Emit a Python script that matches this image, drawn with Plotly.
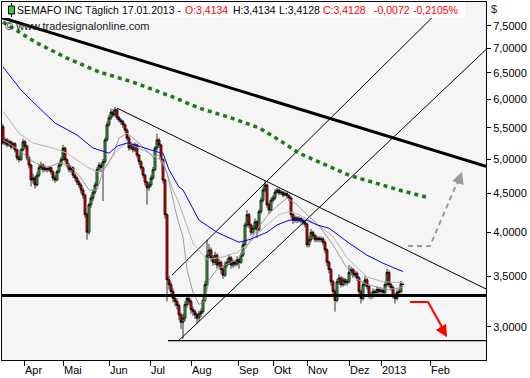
import plotly.graph_objects as go
import math

# ---------------- data ----------------
opens = [5.52,5.25,5.30,5.22,5.27,5.19,5.24,5.14,5.02,4.99,
         5.14,5.27,5.20,5.02,4.91,4.69,4.72,4.62,4.76,4.87,
         4.91,4.84,4.87,4.84,4.87,4.81,4.72,4.69,4.81,4.91,
         4.99,5.17,4.99,4.91,4.84,4.87,4.76,4.72,4.66,4.62,
         4.55,4.48,4.22,4.00,4.35,4.44,4.52,4.62,4.84,4.91,
         4.87,4.96,5.30,5.55,5.67,5.77,5.72,5.81,5.67,5.63,
         5.60,5.55,5.46,5.33,5.17,5.22,5.14,5.22,5.06,4.96,
         4.87,4.76,4.66,4.58,4.62,4.72,4.84,5.17,5.30,5.22,
         4.99,4.69,4.22,3.46,3.41,3.34,3.27,3.24,3.20,3.11,
         3.04,3.08,3.21,3.27,3.24,3.16,3.14,3.11,3.08,3.12,
         3.14,3.25,3.41,3.73,3.79,3.70,3.65,3.73,3.62,3.65,
         3.57,3.51,3.62,3.65,3.70,3.62,3.65,3.63,3.68,3.65,
         3.73,3.85,4.09,4.22,4.09,4.00,4.05,4.13,4.03,4.26,
         4.41,4.55,4.62,4.35,4.28,4.41,4.44,4.52,4.55,4.51,
         4.52,4.48,4.50,4.47,4.44,4.22,4.15,4.18,4.15,4.17,
         4.14,4.13,4.10,3.85,3.91,4.00,3.96,3.91,3.93,3.91,
         3.92,3.88,3.79,3.65,3.57,3.44,3.34,3.25,3.44,3.48,
         3.41,3.46,3.43,3.44,3.54,3.57,3.51,3.53,3.48,3.34,
         3.27,3.41,3.46,3.39,3.30,3.29,3.34,3.33,3.36,3.34,
         3.35,3.33,3.41,3.54,3.41,3.38,3.30,3.27,3.33,3.34,
         3.4134]
highs = [5.56,5.34,5.33,5.31,5.29,5.27,5.26,5.16,5.06,5.17,
         5.32,5.30,5.22,5.05,4.93,4.78,4.75,4.80,4.92,4.96,
         4.93,4.90,4.89,4.90,4.89,4.83,4.76,4.84,4.95,5.03,
         5.22,5.19,5.01,4.94,4.90,4.89,4.79,4.74,4.69,4.65,
         4.58,4.50,4.25,4.38,4.48,4.56,4.66,4.88,4.95,4.94,
         5.00,5.34,5.60,5.72,5.83,5.82,5.86,5.83,5.70,5.66,
         5.63,5.57,5.49,5.36,5.27,5.25,5.26,5.24,5.08,4.98,
         4.89,4.78,4.68,4.66,4.76,4.88,5.20,5.40,5.33,5.24,
         5.01,4.71,4.24,3.50,3.44,3.37,3.30,3.27,3.22,3.13,
         3.12,3.24,3.30,3.29,3.26,3.19,3.16,3.13,3.15,3.17,
         3.28,3.45,3.91,3.86,3.82,3.73,3.77,3.75,3.69,3.67,
         3.59,3.66,3.69,3.74,3.72,3.68,3.67,3.72,3.70,3.76,
         3.89,4.12,4.28,4.24,4.11,4.09,4.17,4.15,4.29,4.45,
         4.59,4.68,4.64,4.38,4.45,4.48,4.56,4.58,4.57,4.55,
         4.54,4.53,4.52,4.49,4.46,4.25,4.21,4.20,4.20,4.19,
         4.17,4.15,4.12,3.95,4.04,4.02,3.98,3.96,3.95,3.95,
         3.94,3.90,3.81,3.67,3.59,3.46,3.36,3.47,3.52,3.50,
         3.49,3.48,3.47,3.62,3.60,3.59,3.56,3.55,3.50,3.36,
         3.44,3.50,3.48,3.41,3.33,3.37,3.36,3.39,3.38,3.38,
         3.37,3.44,3.58,3.56,3.43,3.40,3.32,3.36,3.37,3.45,
         3.4134]
lows = [5.22,5.21,5.18,5.19,5.15,5.16,5.10,4.98,4.95,4.97,
        5.12,5.16,4.98,4.86,4.60,4.64,4.57,4.60,4.73,4.84,
        4.80,4.81,4.80,4.81,4.77,4.68,4.65,4.67,4.79,4.88,
        4.97,4.95,4.87,4.80,4.80,4.72,4.68,4.62,4.58,4.50,
        4.43,4.18,3.91,3.97,4.31,4.40,4.49,4.60,4.81,4.80,
        4.40,4.93,5.27,5.52,5.63,5.68,5.69,5.63,5.59,5.55,
        5.50,5.42,5.29,5.13,5.14,5.10,5.11,5.02,4.91,4.83,
        4.72,4.61,4.35,4.54,4.59,4.69,4.82,5.13,5.17,4.95,
        4.64,4.17,3.24,3.36,3.30,3.23,3.19,3.16,3.06,2.98,
        2.89,3.05,3.18,3.20,3.12,3.10,3.07,3.03,3.05,3.09,
        3.12,3.23,3.39,3.69,3.66,3.61,3.62,3.58,3.59,3.52,
        3.47,3.49,3.59,3.62,3.58,3.59,3.60,3.61,3.58,3.63,
        3.71,3.83,4.06,4.05,3.96,3.97,4.02,3.93,4.01,4.23,
        4.38,4.52,4.31,4.23,4.26,4.38,4.41,4.49,4.48,4.48,
        4.45,4.46,4.44,4.40,4.18,4.10,4.12,4.11,4.12,4.11,
        4.09,4.06,3.82,3.82,3.88,3.92,3.88,3.88,3.88,3.88,
        3.84,3.75,3.61,3.53,3.40,3.30,3.14,3.23,3.41,3.38,
        3.39,3.40,3.40,3.42,3.51,3.48,3.49,3.45,3.30,3.22,
        3.25,3.39,3.36,3.27,3.26,3.27,3.30,3.31,3.31,3.32,
        3.30,3.31,3.39,3.38,3.35,3.27,3.22,3.25,3.31,3.32,
        3.4128]
closes = [5.25,5.30,5.22,5.27,5.19,5.24,5.14,5.02,4.99,5.14,
          5.27,5.20,5.02,4.91,4.69,4.72,4.62,4.76,4.87,4.91,
          4.84,4.87,4.84,4.87,4.81,4.72,4.69,4.81,4.91,4.99,
          5.17,4.99,4.91,4.84,4.87,4.76,4.72,4.66,4.62,4.55,
          4.48,4.22,4.00,4.35,4.44,4.52,4.62,4.84,4.91,4.87,
          4.96,5.30,5.55,5.67,5.77,5.72,5.81,5.67,5.63,5.60,
          5.55,5.46,5.33,5.17,5.22,5.14,5.22,5.06,4.96,4.87,
          4.76,4.66,4.58,4.62,4.72,4.84,5.17,5.30,5.22,4.99,
          4.69,4.22,3.46,3.41,3.34,3.27,3.24,3.20,3.11,3.04,
          3.08,3.21,3.27,3.24,3.16,3.14,3.11,3.08,3.12,3.14,
          3.25,3.41,3.73,3.79,3.70,3.65,3.73,3.62,3.65,3.57,
          3.51,3.62,3.65,3.70,3.62,3.65,3.63,3.68,3.65,3.73,
          3.85,4.09,4.22,4.09,4.00,4.05,4.13,4.03,4.26,4.41,
          4.55,4.62,4.35,4.28,4.41,4.44,4.52,4.55,4.51,4.52,
          4.48,4.50,4.47,4.44,4.22,4.15,4.18,4.15,4.17,4.14,
          4.13,4.10,3.85,3.91,4.00,3.96,3.91,3.93,3.91,3.92,
          3.88,3.79,3.65,3.57,3.44,3.34,3.25,3.44,3.48,3.41,
          3.46,3.43,3.44,3.54,3.57,3.51,3.53,3.48,3.34,3.27,
          3.41,3.46,3.39,3.30,3.29,3.34,3.33,3.36,3.34,3.35,
          3.33,3.41,3.54,3.41,3.38,3.30,3.27,3.33,3.34,3.42,
          3.4128]

# moving averages (bar index, value)
ma_blue_x = [0, 9, 15, 26, 37, 45, 53, 57, 62, 68, 77, 80, 83, 88, 90, 98, 107, 118, 123, 132, 137, 143, 152, 157, 163, 173, 182, 190, 198, 200]
ma_blue_y = [6.62, 6.17, 5.95, 5.58, 5.38, 5.17, 5.09, 5.20, 5.25, 5.20, 5.11, 5.09, 4.84, 4.59, 4.55, 4.15, 4.00, 3.88, 3.91, 4.00, 4.09, 4.15, 4.15, 4.09, 4.05, 3.87, 3.73, 3.64, 3.565, 3.55]
ma_slow_x = [0, 8, 15, 25, 32, 42, 47, 52, 57, 62, 68, 75, 80, 85, 88, 95, 102, 110, 117, 123, 131, 138, 143, 148, 158, 165, 172, 182, 190, 198, 200]
ma_slow_y = [5.78, 5.41, 5.25, 5.17, 5.09, 4.88, 4.81, 4.91, 5.14, 5.25, 5.17, 5.06, 4.96, 4.55, 4.37, 3.87, 3.68, 3.71, 3.76, 3.87, 4.07, 4.22, 4.26, 4.22, 4.08, 3.95, 3.70, 3.49, 3.44, 3.43, 3.43]
ma_fast_x = [0, 8, 15, 22, 28, 33, 38, 43, 47, 50, 55, 58, 62, 68, 75, 78, 82, 87, 90, 92, 95, 98, 101, 103, 107, 113, 118, 123, 128, 132, 137, 142, 147, 152, 158, 165, 171, 176, 182, 192, 200]
ma_fast_y = [5.30, 5.14, 4.96, 4.87, 4.94, 4.91, 4.76, 4.55, 4.55, 4.81, 5.06, 5.33, 5.41, 5.25, 5.03, 5.06, 4.79, 4.19, 3.94, 3.57, 3.33, 3.21, 3.25, 3.46, 3.57, 3.64, 3.70, 3.87, 4.07, 4.20, 4.33, 4.44, 4.35, 4.22, 4.08, 3.85, 3.62, 3.48, 3.41, 3.36, 3.38]
ma_green_x = [0, 17, 32, 48, 65, 85, 98, 113, 128, 138, 148, 173, 198, 212]
ma_green_y = [7.59, 7.12, 6.80, 6.52, 6.32, 6.04, 5.84, 5.68, 5.50, 5.30, 5.09, 4.76, 4.55, 4.45]

# trend lines: (x0, y0, x1, y1) in bar index / price
trend_thick = (-0.5, 7.69, 241.5, 4.89)
trend_down = (57, 5.84, 241.5, 3.365)
channel_low = (87.5, 2.87, 241.5, 6.98)
channel_up = (84.5, 3.51, 221, 8.00)
support_level = 3.30
low_level = 2.875

# axis ticks
month_pos = [10.5, 30, 53, 73.5, 94, 117.5, 135, 152, 173, 189, 213.5]
month_lbl = ["Apr", "Mai", "Jun", "Jul", "Aug", "Sep", "Okt", "Nov", "Dez", "2013", "Feb"]
price_ticks = [3.0, 3.5, 4.0, 4.5, 5.0, 5.5, 6.0, 6.5, 7.0, 7.5]

# ---------------- figure ----------------
W, H = 530, 378
ML, MR, MT, MB = 2, 44, 2, 18
PW, PH = W - ML - MR, H - MT - MB

def px(x):
    return (x - ML) / PW

def py(y):
    return (H - MB - y) / PH

bars = list(range(len(closes)))
fig = go.Figure()

def line(xs, ys, color, width, dash=None):
    fig.add_trace(go.Scatter(x=list(xs), y=list(ys), mode="lines",
                             line=dict(color=color, width=width, dash=dash),
                             hoverinfo="skip", showlegend=False))

# trend / channel lines (behind)
for t in (channel_low, channel_up, trend_down):
    line([t[0], t[2]], [t[1], t[3]], "black", 1)
line([82.5, 241.5], [low_level, low_level], "black", 1.2)

# moving averages
line(ma_slow_x, ma_slow_y, "#b4b4b4", 1)
line(ma_fast_x, ma_fast_y, "#9c9c9c", 1)
line(ma_blue_x, ma_blue_y, "#0000ff", 1)

fig.add_trace(go.Candlestick(
    x=bars, open=opens, high=highs, low=lows, close=closes,
    increasing=dict(line=dict(color="black", width=0.8), fillcolor="#3cc03c"),
    decreasing=dict(line=dict(color="black", width=0.8), fillcolor="#ff0000"),
    whiskerwidth=0, hoverinfo="skip", showlegend=False))

line(ma_green_x, ma_green_y, "#1a7a1a", 3.5, dash="4px,4px")
line([trend_thick[0], trend_thick[2]], [trend_thick[1], trend_thick[3]], "black", 3)
line([-0.5, 241.5], [support_level, support_level], "black", 3)

# forecast arrows
line([202.5, 213.5, 228.5], [3.836, 3.836, 4.75], "#9a9a9a", 2, dash="5px,4px")
line([203.5, 212.5, 221], [3.235, 3.235, 2.95], "#ff0000", 2)

annotations = []
annotations.append(dict(x=229.5, y=math.log10(4.81), ax=-5, ay=14, xref="x", yref="y",
                        showarrow=True, arrowhead=2, arrowsize=1.2, arrowwidth=2,
                        arrowcolor="#9a9a9a", text=""))
annotations.append(dict(x=222, y=math.log10(2.905), ax=-7, ay=-12, xref="x", yref="y",
                        showarrow=True, arrowhead=2, arrowsize=1.2, arrowwidth=2,
                        arrowcolor="#ff0000", text=""))

FONT = "Liberation Sans, Arial"
def label(x, y, text, color="black", size=10.5, family=FONT):
    annotations.append(dict(x=px(x), y=py(y), xref="paper", yref="paper",
                            xanchor="left", yanchor="middle", showarrow=False,
                            text=text, font=dict(color=color, size=size, family=family),
                            borderpad=0))

label(16, 10.5, "SEMAFO INC Täglich")
label(121, 10.5, "17.01.2013 -")
label(184, 10.5, "O:3,4134", "#ff0000")
label(232, 10.5, "H:3,4134")
label(278, 10.5, "L:3,4128")
label(322, 10.5, "C:3,4128", "#ff0000")
label(373, 10.5, "-0,0072", "#ff0000")
label(412, 10.5, "-0,2105%", "#ff0000")
label(4, 25.5, "© www.tradesignalonline.com", "#222222", 11)
label(490, 9, "$", "#222222", 11)

shapes = [
    dict(type="rect", xref="paper", yref="paper", x0=px(2), x1=px(465), y0=py(18), y1=py(2),
         fillcolor="white", line=dict(width=0), layer="above"),
    dict(type="line", xref="paper", yref="paper", x0=px(11.5), x1=px(11.5), y0=py(17), y1=py(3),
         line=dict(color="black", width=1), layer="above"),
    dict(type="rect", xref="paper", yref="paper", x0=px(8.5), x1=px(14.5), y0=py(14), y1=py(6),
         fillcolor="#33cc33", line=dict(color="black", width=1), layer="above"),
]

fig.update_layout(
    width=W, height=H, margin=dict(l=ML, r=MR, t=MT, b=MB, autoexpand=False),
    paper_bgcolor="white", plot_bgcolor="#f5f5f5",
    showlegend=False, annotations=annotations, shapes=shapes,
    boxgap=0, boxgroupgap=0,
    xaxis=dict(range=[-0.5, 241.5], showgrid=False, zeroline=False,
               rangeslider=dict(visible=False),
               tickmode="array", tickvals=month_pos, ticktext=month_lbl,
               ticks="outside", ticklen=5, tickcolor="black",
               ticklabelposition="outside right",
               tickfont=dict(family="Liberation Sans", size=11, color="black"),
               showline=True, linecolor="black", linewidth=1, mirror=True),
    yaxis=dict(type="log", range=[0.433, 0.9068], side="right", showgrid=False, zeroline=False,
               tickmode="array", tickvals=price_ticks,
               ticktext=[("%.4f" % v).replace(".", ",") for v in price_ticks],
               ticks="outside", ticklen=4, tickcolor="black",
               tickfont=dict(family="Liberation Sans", size=11, color="black"),
               showline=True, linecolor="black", linewidth=1, mirror=True),
)

fig.write_html("out.html",
               config={"displayModeBar": False},
               post_script="document.body.style.margin='0px';document.body.style.overflow='hidden';")
